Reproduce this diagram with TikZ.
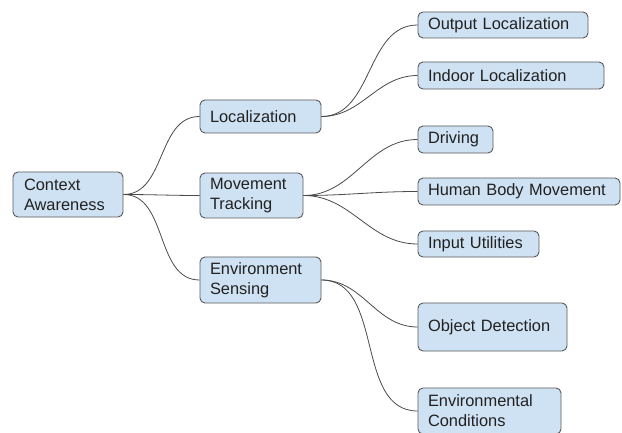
\documentclass[tikz,border=0pt]{standalone}
\usepackage{fontspec}
\setmainfont{Liberation Sans}
\definecolor{boxfill}{HTML}{CFE2F3}
\definecolor{boxline}{HTML}{595959}
\definecolor{linkline}{HTML}{4A4A4A}
\tikzset{
  topic/.style={draw=boxline, fill=boxfill, line width=0.9pt, rounded corners=5pt,
    font=\fontsize{16.4}{20}\selectfont, text=black!87, align=left,
    inner xsep=10pt, inner ysep=0pt},
  link/.style={draw=linkline, line width=0.8pt, out=0, in=180}
}
\begin{document}
\begin{tikzpicture}[x=1pt,y=-1pt]
                \useasboundingbox (0,0) rectangle (622,433);
                % root
                \node[topic, text width=88pt, minimum height=45pt, inner xsep=11pt] (ctx) at (68,194.5) {Context\\Awareness};
                % second level
                \node[topic, text width=101pt, minimum height=33pt] (loc) at (260.5,116.5) {Localization};
                \node[topic, text width=83pt, minimum height=45pt] (mov) at (251.5,195.5) {Movement\\Tracking};
                \node[topic, text width=101pt, minimum height=46pt] (env) at (260.5,280) {Environment\\Sensing};
                % leaves
                \node[topic, text width=150pt, minimum height=26pt] (outloc) at (503,25) {Output Localization};
                \node[topic, text width=166pt, minimum height=27pt] (indloc) at (511,75.5) {Indoor Localization};
                \node[topic, text width=55pt, minimum height=27pt] (drive) at (455.5,139.5) {Driving};
                \node[topic, text width=182pt, minimum height=27pt] (body) at (519,191.5) {Human Body Movement};
                \node[topic, text width=101pt, minimum height=26pt] (input) at (478.5,244) {Input Utilities};
                \node[topic, text width=129pt, minimum height=48pt] (objdet) at (492.5,327) {Object Detection};
                \node[topic, text width=123pt, minimum height=46pt] (envcond) at (489.5,411) {Environmental\\Conditions};

                \draw[link] (ctx.east) to (loc.west);
                \draw[link] (ctx.east) to (mov.west);
                \draw[link] (ctx.east) to (env.west);
                \draw[link] (loc.east) to (outloc.west);
                \draw[link] (loc.east) to (indloc.west);
                \draw[link] (mov.east) to (drive.west);
                \draw[link] (mov.east) to (body.west);
                \draw[link] (mov.east) to (input.west);
                \draw[link] (env.east) to (objdet.west);
                \draw[link] (env.east) to (envcond.west);
            \end{tikzpicture}
\end{document}
